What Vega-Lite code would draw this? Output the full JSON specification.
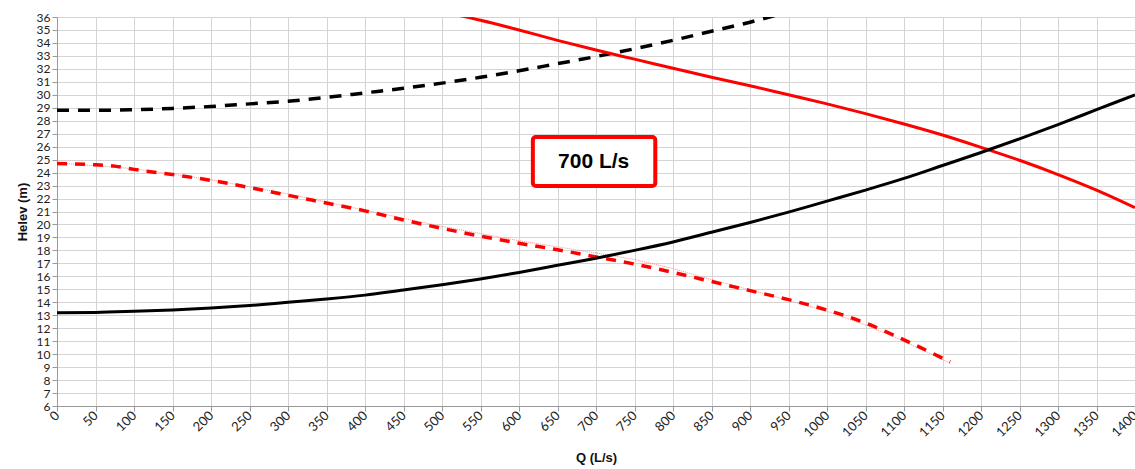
{
  "$schema": "https://vega.github.io/schema/vega-lite/v6.json",
  "width": 1078,
  "height": 389,
  "autosize": {"type": "none"},
  "padding": {"left": 57, "top": 17, "right": 0, "bottom": 63},
  "background": "white",
  "config": {
    "view": {"stroke": null},
    "axis": {
      "labelFont": "Lato",
      "labelFontSize": 13,
      "labelColor": "#222",
      "titleFont": "Liberation Sans",
      "titleFontSize": 13,
      "titleFontWeight": "bold",
      "titleColor": "#111",
      "gridColor": "#d4d4d4",
      "gridWidth": 1,
      "domainColor": "#999",
      "tickColor": "#999",
      "tickSize": 5
    }
  },
  "datasets": {
    "curves": [
      {"series": "sys", "Q": 0, "H": 13.2}, {"series": "sys", "Q": 50, "H": 13.22}, {"series": "sys", "Q": 100, "H": 13.3}, {"series": "sys", "Q": 150, "H": 13.4}, {"series": "sys", "Q": 200, "H": 13.55}, {"series": "sys", "Q": 250, "H": 13.75}, {"series": "sys", "Q": 300, "H": 14.0}, {"series": "sys", "Q": 350, "H": 14.25}, {"series": "sys", "Q": 400, "H": 14.55}, {"series": "sys", "Q": 450, "H": 14.95}, {"series": "sys", "Q": 500, "H": 15.35}, {"series": "sys", "Q": 550, "H": 15.8}, {"series": "sys", "Q": 600, "H": 16.3}, {"series": "sys", "Q": 650, "H": 16.85}, {"series": "sys", "Q": 700, "H": 17.4}, {"series": "sys", "Q": 750, "H": 18.0}, {"series": "sys", "Q": 800, "H": 18.65}, {"series": "sys", "Q": 850, "H": 19.4}, {"series": "sys", "Q": 900, "H": 20.15}, {"series": "sys", "Q": 950, "H": 20.95}, {"series": "sys", "Q": 1000, "H": 21.8}, {"series": "sys", "Q": 1050, "H": 22.65}, {"series": "sys", "Q": 1100, "H": 23.55}, {"series": "sys", "Q": 1150, "H": 24.55}, {"series": "sys", "Q": 1200, "H": 25.55}, {"series": "sys", "Q": 1250, "H": 26.6}, {"series": "sys", "Q": 1300, "H": 27.7}, {"series": "sys", "Q": 1350, "H": 28.85}, {"series": "sys", "Q": 1400, "H": 30.0},
      {"series": "sys2", "Q": 0, "H": 28.8}, {"series": "sys2", "Q": 50, "H": 28.8}, {"series": "sys2", "Q": 100, "H": 28.85}, {"series": "sys2", "Q": 150, "H": 28.95}, {"series": "sys2", "Q": 200, "H": 29.1}, {"series": "sys2", "Q": 250, "H": 29.3}, {"series": "sys2", "Q": 300, "H": 29.5}, {"series": "sys2", "Q": 350, "H": 29.8}, {"series": "sys2", "Q": 400, "H": 30.15}, {"series": "sys2", "Q": 450, "H": 30.5}, {"series": "sys2", "Q": 500, "H": 30.9}, {"series": "sys2", "Q": 550, "H": 31.35}, {"series": "sys2", "Q": 600, "H": 31.85}, {"series": "sys2", "Q": 650, "H": 32.4}, {"series": "sys2", "Q": 700, "H": 32.95}, {"series": "sys2", "Q": 750, "H": 33.55}, {"series": "sys2", "Q": 800, "H": 34.2}, {"series": "sys2", "Q": 850, "H": 34.9}, {"series": "sys2", "Q": 900, "H": 35.6}, {"series": "sys2", "Q": 950, "H": 36.4},
      {"series": "pump1", "Q": 500, "H": 36.4}, {"series": "pump1", "Q": 550, "H": 35.75}, {"series": "pump1", "Q": 600, "H": 35.0}, {"series": "pump1", "Q": 650, "H": 34.2}, {"series": "pump1", "Q": 700, "H": 33.45}, {"series": "pump1", "Q": 750, "H": 32.75}, {"series": "pump1", "Q": 800, "H": 32.05}, {"series": "pump1", "Q": 850, "H": 31.35}, {"series": "pump1", "Q": 900, "H": 30.7}, {"series": "pump1", "Q": 950, "H": 30.0}, {"series": "pump1", "Q": 1000, "H": 29.3}, {"series": "pump1", "Q": 1050, "H": 28.55}, {"series": "pump1", "Q": 1100, "H": 27.75}, {"series": "pump1", "Q": 1150, "H": 26.9}, {"series": "pump1", "Q": 1200, "H": 25.95}, {"series": "pump1", "Q": 1250, "H": 24.95}, {"series": "pump1", "Q": 1300, "H": 23.85}, {"series": "pump1", "Q": 1350, "H": 22.65}, {"series": "pump1", "Q": 1400, "H": 21.3},
      {"series": "pump2", "Q": 0, "H": 24.7}, {"series": "pump2", "Q": 50, "H": 24.6}, {"series": "pump2", "Q": 75, "H": 24.5}, {"series": "pump2", "Q": 100, "H": 24.25}, {"series": "pump2", "Q": 150, "H": 23.85}, {"series": "pump2", "Q": 200, "H": 23.4}, {"series": "pump2", "Q": 250, "H": 22.85}, {"series": "pump2", "Q": 300, "H": 22.25}, {"series": "pump2", "Q": 350, "H": 21.65}, {"series": "pump2", "Q": 400, "H": 21.05}, {"series": "pump2", "Q": 450, "H": 20.35}, {"series": "pump2", "Q": 500, "H": 19.7}, {"series": "pump2", "Q": 550, "H": 19.1}, {"series": "pump2", "Q": 600, "H": 18.55}, {"series": "pump2", "Q": 650, "H": 18.05}, {"series": "pump2", "Q": 700, "H": 17.5}, {"series": "pump2", "Q": 750, "H": 16.95}, {"series": "pump2", "Q": 800, "H": 16.3}, {"series": "pump2", "Q": 850, "H": 15.6}, {"series": "pump2", "Q": 900, "H": 14.9}, {"series": "pump2", "Q": 950, "H": 14.2}, {"series": "pump2", "Q": 1000, "H": 13.4}, {"series": "pump2", "Q": 1050, "H": 12.4}, {"series": "pump2", "Q": 1100, "H": 11.1}, {"series": "pump2", "Q": 1160, "H": 9.4},
      {"series": "trend", "Q": 0, "H": 24.75}, {"series": "trend", "Q": 100, "H": 24.3}, {"series": "trend", "Q": 200, "H": 23.45}, {"series": "trend", "Q": 300, "H": 22.35}, {"series": "trend", "Q": 400, "H": 21.1}, {"series": "trend", "Q": 500, "H": 19.85}, {"series": "trend", "Q": 600, "H": 18.75}, {"series": "trend", "Q": 700, "H": 17.8}, {"series": "trend", "Q": 750, "H": 17.3}, {"series": "trend", "Q": 800, "H": 16.6}, {"series": "trend", "Q": 850, "H": 15.75}, {"series": "trend", "Q": 900, "H": 14.95}, {"series": "trend", "Q": 950, "H": 14.15}, {"series": "trend", "Q": 1000, "H": 13.3}, {"series": "trend", "Q": 1050, "H": 12.25}, {"series": "trend", "Q": 1100, "H": 11.0}, {"series": "trend", "Q": 1160, "H": 9.3}
    ],
    "note": [
      {"label": "700 L/s", "x1": 618, "x2": 777, "y1": 22.97, "y2": 26.75, "xc": 697, "yc": 24.85}
    ]
  },
  "data": {"name": "curves"},
  "encoding": {
    "x": {
      "field": "Q", "type": "quantitative",
      "scale": {"domain": [0, 1400], "nice": false, "zero": false},
      "axis": {"title": "Q (L/s)", "format": "d", "values": [0,50,100,150,200,250,300,350,400,450,500,550,600,650,700,750,800,850,900,950,1000,1050,1100,1150,1200,1250,1300,1350,1400], "labelAngle": -45, "labelAlign": "right", "labelBaseline": "middle", "labelPadding": 2, "labelOverlap": false, "labelFlush": false, "titlePadding": 12}
    },
    "y": {
      "field": "H", "type": "quantitative",
      "scale": {"domain": [6, 36], "nice": false, "zero": false},
      "axis": {"title": "Helev (m)", "format": "d", "labelFontSize": 12, "values": [6,7,8,9,10,11,12,13,14,15,16,17,18,19,20,21,22,23,24,25,26,27,28,29,30,31,32,33,34,35,36], "labelOverlap": false, "labelFlush": false, "labelPadding": 2, "titlePadding": 7}
    }
  },
  "layer": [
    {
      "transform": [{"filter": "datum.series === 'trend'"}],
      "mark": {"type": "line", "color": "#ff9090", "strokeWidth": 1, "strokeDash": [1, 1], "clip": true}
    },
    {
      "transform": [{"filter": "datum.series === 'pump2'"}],
      "mark": {"type": "line", "color": "#ff0000", "strokeWidth": 3.5, "strokeDash": [10, 8], "interpolate": "monotone", "clip": true}
    },
    {
      "transform": [{"filter": "datum.series === 'sys2'"}],
      "mark": {"type": "line", "color": "#000000", "strokeWidth": 3.5, "strokeDash": [12, 9], "interpolate": "monotone", "clip": true}
    },
    {
      "transform": [{"filter": "datum.series === 'pump1'"}],
      "mark": {"type": "line", "color": "#ff0000", "strokeWidth": 3, "interpolate": "monotone", "clip": true}
    },
    {
      "transform": [{"filter": "datum.series === 'sys'"}],
      "mark": {"type": "line", "color": "#000000", "strokeWidth": 3, "interpolate": "monotone", "clip": true}
    },
    {
      "data": {"name": "note"},
      "mark": {"type": "rect", "fill": "white", "stroke": "#ff0000", "strokeWidth": 4, "cornerRadius": 3},
      "encoding": {
        "x": {"field": "x1", "type": "quantitative"},
        "x2": {"field": "x2"},
        "y": {"field": "y1", "type": "quantitative"},
        "y2": {"field": "y2"}
      }
    },
    {
      "data": {"name": "note"},
      "mark": {"type": "text", "font": "Liberation Sans", "fontSize": 21, "fontWeight": "bold", "color": "#000", "align": "center", "baseline": "middle"},
      "encoding": {
        "x": {"field": "xc", "type": "quantitative"},
        "y": {"field": "yc", "type": "quantitative"},
        "text": {"field": "label"}
      }
    }
  ]
}
